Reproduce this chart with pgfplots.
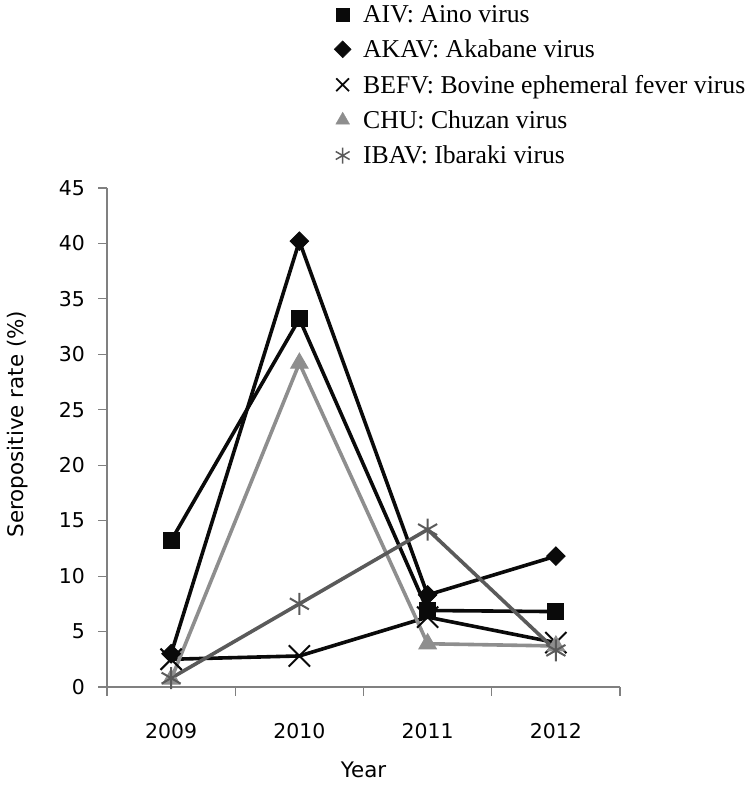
\documentclass[border=0pt]{standalone}
\usepackage{fontspec}
\setmainfont{Liberation Serif}
\newfontfamily\axisfont{DejaVu Sans}
\usepackage{pgfplots}
\pgfplotsset{compat=1.18}
\definecolor{chu}{HTML}{8E8E8E}
\definecolor{ibav}{HTML}{5A5A5A}
\definecolor{blk}{HTML}{0A0A0A}
\definecolor{axgray}{HTML}{808080}
\begin{document}
\begin{tikzpicture}[x=1bp,y=1bp]
\path[use as bounding box] (0,0) rectangle (756,787);
\begin{axis}[
  at={(107bp,100bp)}, anchor=south west,
  scale only axis, width=513bp, height=499bp,
  xmin=-0.5, xmax=3.5, ymin=0, ymax=45,
  axis x line*=bottom, axis y line*=left,
  axis line style={draw=axgray, line width=1.2bp},
  xtick={-0.5,0.5,1.5,2.5,3.5},
  x tick label as interval=true,
  xticklabels={2009,2010,2011,2012},
  ytick={0,5,...,45},
  tick align=outside,
  major tick length=8.5bp,
  tick style={draw=axgray, line width=1.2bp},
  ticklabel style={font=\axisfont\fontsize{20.5}{24}\selectfont},
  /pgf/number format/assume math mode=true,
  yticklabel style={xshift=-10bp},
  xticklabel style={yshift=-24bp},
  xlabel={Year}, ylabel={Seropositive rate (\%)},
  label style={font=\axisfont\fontsize{21.5}{25}\selectfont},
  xlabel style={at={(axis description cs:0.5,-0.1663)}, anchor=center},
  ylabel style={at={(axis description cs:-0.1735,0.527)}, anchor=center},
  clip=false,
  legend cell align=left,
  legend style={at={(axis description cs:0.4425,1.3708)}, anchor=north west,
    draw=none, fill=none, inner sep=0pt,
    font=\fontsize{25.8}{29}\selectfont, row sep=12bp},
]
\addlegendimage{only marks, mark=square*, mark size=6.5bp, blk}
\addlegendimage{only marks, mark=square*, mark size=6bp, mark options={rotate=45}, blk}
\addlegendimage{only marks, mark=x, mark size=9bp, line width=1.8bp, blk}
\addlegendimage{only marks, mark=triangle*, mark size=8bp, chu}
\addlegendimage{only marks, mark=asterisk, mark size=8bp, line width=1.5bp, ibav}
\legend{\hspace{10bp}AIV: Aino virus, \hspace{10bp}AKAV: Akabane virus, \hspace{10bp}BEFV: Bovine ephemeral fever virus, \hspace{10bp}CHU: Chuzan virus, \hspace{10bp}IBAV: Ibaraki virus}

\addplot[blk, line width=3.6bp, mark=square*, mark size=8bp, mark options={line width=1bp}, forget plot]
  coordinates {(0,13.2)(1,33.2)(2,6.9)(3,6.8)};
\addplot[blk, line width=3.6bp, mark=square*, mark size=6.5bp, mark options={rotate=45, line width=1bp}, forget plot]
  coordinates {(0,3.0)(1,40.2)(2,8.3)(3,11.8)};
\addplot[blk, line width=3.6bp, mark=x, mark size=15bp, mark options={line width=2bp}, forget plot]
  coordinates {(0,2.5)(1,2.8)(2,6.3)(3,4.0)};
\addplot[chu, line width=3.6bp, mark=triangle*, mark size=10bp, mark options={line width=1bp}, forget plot]
  coordinates {(0,0.7)(1,29.2)(2,3.9)(3,3.7)};
\addplot[ibav, line width=3.6bp, mark=asterisk, mark size=11bp, mark options={line width=2bp}, forget plot]
  coordinates {(0,0.8)(1,7.5)(2,14.2)(3,3.3)};
\end{axis}
\end{tikzpicture}
\end{document}
